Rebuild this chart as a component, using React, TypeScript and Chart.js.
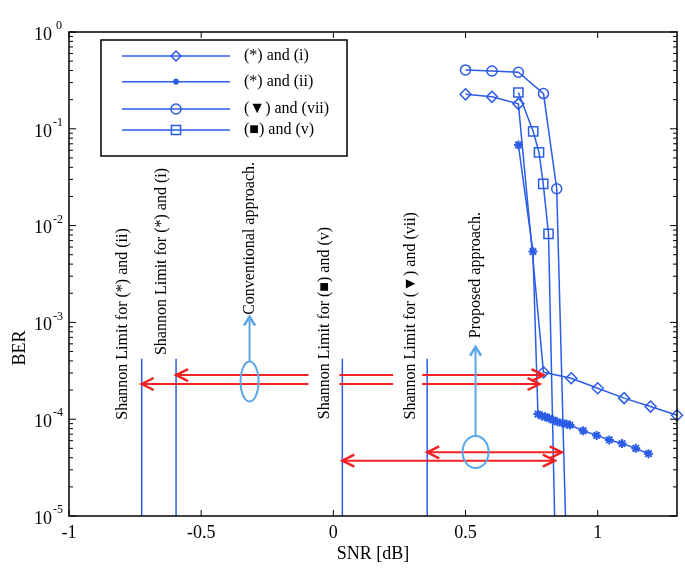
import React, { useEffect, useRef } from 'react';
import { Chart, registerables } from 'chart.js';

Chart.register(...registerables);

// ---------------- data ----------------
const xTicks = [-1, -0.5, 0, 0.5, 1];
const xTickLabels = ['-1', '-0.5', '0', '0.5', '1'];
const yTickExponents = [0, -1, -2, -3, -4, -5];

const seriesNames = ['(*) and (i)', '(*) and (ii)', '(\u25BC) and (vii)', '(\u25A0) and (v)'];

const snrI = [0.5, 0.6, 0.7, 0.795, 0.9, 1.0, 1.1, 1.2, 1.3];
const berI = [0.227, 0.214, 0.181, 3.05e-4, 2.65e-4, 2.09e-4, 1.65e-4, 1.35e-4, 1.1e-4];

const snrII = [0.7, 0.755, 0.774, 0.789, 0.801, 0.816, 0.832, 0.847, 0.866, 0.882, 0.895, 0.945, 0.996, 1.044, 1.092, 1.144, 1.192];
const berII = [0.068, 5.4e-3, 1.13e-4, 1.08e-4, 1.06e-4, 1.02e-4, 9.8e-5, 9.4e-5, 9.1e-5, 8.9e-5, 8.7e-5, 7.6e-5, 6.8e-5, 6.1e-5, 5.6e-5, 5.0e-5, 4.4e-5];

const snrVII = [0.5, 0.6, 0.7, 0.795, 0.845, 0.878];
const berVII = [0.406, 0.396, 0.384, 0.231, 0.024, 1e-5];

const snrV = [0.7, 0.756, 0.778, 0.794, 0.814, 0.837];
const berV = [0.237, 0.094, 0.057, 0.027, 0.0082, 1e-5];

const shannonSnr = [-0.725, -0.595, 0.034, 0.355];
const shannonTopBer = 4.2e-4;
const shannonLabels = [
  'Shannon Limit for (*) and (ii)',
  'Shannon Limit for (*) and (i)',
  'Shannon Limit for (\u25A0) and (v)',
  'Shannon Limit for (\u25BC) and (vii)',
];
const shannonLabelSnr = [-0.796, -0.649, -0.034, 0.294];
const shannonLabelTopBer = [9.4e-3, 0.0394, 9.7e-3, 0.0138];

const approachLabels = ['Conventional approach.', 'Proposed approach.'];
const approachSnr = [-0.317, 0.538];
const approachLabelTopBer = [0.0454, 0.0138];
const approachEllipseBer = [2.45e-4, 4.58e-5];
const approachArrowTipBer = [1.15e-3, 5.6e-4];

const arrowBer = [2.86e-4, 2.31e-4, 4.55e-5, 3.73e-5];
const arrowFromSnr = [-0.595, -0.725, 0.355, 0.034];
const arrowToSnr = [0.795, 0.78, 0.864, 0.838];
const arrowGapSnr = [[-0.094, 0.023], [0.226, 0.336]];
const arrowRowsWithGaps = [0, 1];

// ---------------- styles ----------------
const BLUE = '#2B5CE6';
const RED = '#F22222';
const LIGHT = '#5AA6E6';
const SERIF = '"Liberation Serif", "Times New Roman", serif';
const ELLIPSE_R = [[9, 20], [13, 16]];

const mk = (xs: number[], ys: number[]) => xs.map((x, i) => ({ x, y: ys[i] }));

function chevron(ctx: CanvasRenderingContext2D, tx: number, ty: number, dir: number, len: number, half: number) {
  const dx = Math.cos(dir), dy = Math.sin(dir);
  const bx = tx - dx * len, by = ty - dy * len;
  const nx = -dy, ny = dx;
  ctx.beginPath();
  ctx.moveTo(bx + nx * half, by + ny * half);
  ctx.lineTo(tx, ty);
  ctx.lineTo(bx - nx * half, by - ny * half);
  ctx.stroke();
}

function vText(ctx: CanvasRenderingContext2D, text: string, cx: number, topY: number, font: string, align: CanvasTextAlign = 'right') {
  ctx.save();
  ctx.translate(cx, topY);
  ctx.rotate(-Math.PI / 2);
  ctx.font = font;
  ctx.fillStyle = '#000';
  ctx.textAlign = align;
  ctx.textBaseline = 'middle';
  ctx.fillText(text, 0, 0);
  ctx.restore();
}

function marker(ctx: CanvasRenderingContext2D, style: string, x: number, y: number, r: number) {
  ctx.beginPath();
  if (style === 'rectRot') {
    ctx.moveTo(x - r, y); ctx.lineTo(x, y - r); ctx.lineTo(x + r, y); ctx.lineTo(x, y + r); ctx.closePath();
  } else if (style === 'circle') {
    ctx.arc(x, y, r, 0, Math.PI * 2);
  } else if (style === 'rect') {
    const s = r * Math.SQRT1_2;
    ctx.rect(x - s, y - s, 2 * s, 2 * s);
  } else if (style === 'star') {
    for (let k = 0; k < 4; k++) {
      const a = (k * Math.PI) / 4;
      ctx.moveTo(x - Math.cos(a) * r, y - Math.sin(a) * r);
      ctx.lineTo(x + Math.cos(a) * r, y + Math.sin(a) * r);
    }
  }
  ctx.stroke();
}

const overlayPlugin = {
  id: 'overlay',
  afterDatasetsDraw(chart: any) {
    const { ctx, scales } = chart;
    const px = (v: number) => scales.x.getPixelForValue(v);
    const py = (v: number) => scales.y.getPixelForValue(v);
    ctx.save();

    // red double arrows
    ctx.strokeStyle = RED;
    ctx.lineCap = 'butt';
    arrowBer.forEach((b, i) => {
      const yy = py(b);
      let segs: number[][] = [[arrowFromSnr[i], arrowToSnr[i]]];
      if (arrowRowsWithGaps.includes(i)) {
        segs = [];
        let start = arrowFromSnr[i];
        arrowGapSnr.forEach(([g0, g1]) => { segs.push([start, g0]); start = g1; });
        segs.push([start, arrowToSnr[i]]);
      }
      ctx.lineWidth = 2;
      segs.forEach(([a0, a1]) => {
        ctx.beginPath();
        ctx.moveTo(px(a0), yy);
        ctx.lineTo(px(a1), yy);
        ctx.stroke();
      });
      ctx.lineWidth = 2.5;
      chevron(ctx, px(arrowFromSnr[i]), yy, Math.PI, 12, 6);
      chevron(ctx, px(arrowToSnr[i]), yy, 0, 12, 6);
    });

    // light-blue ellipses with arrows
    ctx.strokeStyle = LIGHT;
    ctx.lineWidth = 2;
    approachSnr.forEach((s, i) => {
      const cx = px(s), cy = py(approachEllipseBer[i]);
      const [rx, ry] = ELLIPSE_R[i];
      ctx.beginPath();
      ctx.ellipse(cx, cy, rx, ry, 0, 0, Math.PI * 2);
      ctx.stroke();
      const tip = py(approachArrowTipBer[i]);
      ctx.beginPath();
      ctx.moveTo(cx, cy - ry);
      ctx.lineTo(cx, tip);
      ctx.stroke();
      ctx.lineWidth = 2.5;
      chevron(ctx, cx, tip, -Math.PI / 2, 9, 5.5);
      ctx.lineWidth = 2;
    });

    // rotated labels
    const f16 = `16px ${SERIF}`;
    shannonLabels.forEach((t, i) => vText(ctx, t, px(shannonLabelSnr[i]), py(shannonLabelTopBer[i]), f16));
    approachLabels.forEach((t, i) => vText(ctx, t, px(approachSnr[i]), py(approachLabelTopBer[i]), f16));
    ctx.restore();
  },
  afterDraw(chart: any) {
    const { ctx, chartArea: a, scales } = chart;
    const px = (v: number) => scales.x.getPixelForValue(v);
    const py = (v: number) => scales.y.getPixelForValue(v);
    ctx.save();
    ctx.strokeStyle = '#000';
    ctx.lineWidth = 1.5;
    ctx.strokeRect(a.left, a.top, a.right - a.left, a.bottom - a.top);

    // x ticks (bottom & top, inward)
    ctx.lineWidth = 1;
    xTicks.forEach((v) => {
      const xx = px(v);
      ctx.beginPath();
      ctx.moveTo(xx, a.bottom); ctx.lineTo(xx, a.bottom - 6);
      ctx.moveTo(xx, a.top); ctx.lineTo(xx, a.top + 6);
      ctx.stroke();
    });
    // y ticks (log major + minor)
    yTickExponents.forEach((e) => {
      const yy = py(Math.pow(10, e));
      ctx.beginPath();
      ctx.moveTo(a.left, yy); ctx.lineTo(a.left + 7, yy);
      ctx.moveTo(a.right, yy); ctx.lineTo(a.right - 7, yy);
      ctx.stroke();
      if (e > -5) {
        for (let m = 2; m <= 9; m++) {
          const ym = py(m * Math.pow(10, e - 1));
          ctx.beginPath();
          ctx.moveTo(a.left, ym); ctx.lineTo(a.left + 4, ym);
          ctx.moveTo(a.right, ym); ctx.lineTo(a.right - 4, ym);
          ctx.stroke();
        }
      }
    });
    // y tick labels 10^e
    ctx.fillStyle = '#000';
    ctx.textBaseline = 'middle';
    yTickExponents.forEach((e) => {
      const yy = py(Math.pow(10, e));
      ctx.font = `18px ${SERIF}`;
      ctx.textAlign = 'right';
      ctx.fillText('10', a.left - 17, yy + 3);
      ctx.font = `12px ${SERIF}`;
      ctx.textAlign = 'left';
      ctx.fillText(String(e), a.left - (e === 0 ? 13 : 16), yy - 6);
    });
    // y title
    vText(ctx, 'BER', 20, 348, `18px ${SERIF}`, 'center');

    // legend
    const lx = a.left + 32, ly = a.top + 8, lw = 246, lh = 116;
    ctx.fillStyle = '#fff';
    ctx.fillRect(lx, ly, lw, lh);
    ctx.strokeStyle = '#000';
    ctx.lineWidth = 1.5;
    ctx.strokeRect(lx, ly, lw, lh);
    const rows = [16, 41.7, 69, 90];
    const styles = ['rectRot', 'star', 'circle', 'rect'];
    const radii = [5, 3, 5, 6.5];
    seriesNames.forEach((name, i) => {
      const yy = ly + rows[i];
      ctx.strokeStyle = BLUE;
      ctx.lineWidth = 1.5;
      ctx.beginPath();
      ctx.moveTo(lx + 21, yy); ctx.lineTo(lx + 129, yy);
      ctx.stroke();
      ctx.lineWidth = i === 1 ? 2 : 1.5;
      marker(ctx, styles[i], lx + 75, yy, radii[i]);
      ctx.fillStyle = '#000';
      ctx.font = `16px ${SERIF}`;
      ctx.textAlign = 'left';
      ctx.textBaseline = 'middle';
      ctx.fillText(name, lx + 143, yy);
    });
    ctx.restore();
  },
};

export default function App() {
  const ref = useRef<HTMLCanvasElement>(null);
  useEffect(() => {
    if (!ref.current) return;
    const common = { borderColor: BLUE, borderWidth: 1.5, pointBorderColor: BLUE, pointBackgroundColor: 'rgba(0,0,0,0)', pointBorderWidth: 1.5, clip: 8 };
    const chart = new Chart(ref.current, {
      type: 'line',
      data: {
        datasets: [
          { ...common, label: seriesNames[0], data: mk(snrI, berI), pointStyle: 'rectRot', pointRadius: 5.5 },
          { ...common, label: seriesNames[1], data: mk(snrII, berII), pointStyle: 'star', pointRadius: 4.5, pointBorderWidth: 2 },
          { ...common, label: seriesNames[2], data: mk(snrVII, berVII), pointStyle: 'circle', pointRadius: snrVII.map((_, i) => (i === snrVII.length - 1 ? 0 : 5)) },
          { ...common, label: seriesNames[3], data: mk(snrV, berV), pointStyle: 'rect', pointRadius: snrV.map((_, i) => (i === snrV.length - 1 ? 0 : 6.5)) },
          ...shannonSnr.map((s, i) => ({
            label: shannonLabels[i],
            data: [{ x: s, y: shannonTopBer }, { x: s, y: 1e-5 }],
            borderColor: BLUE,
            borderWidth: 1.5,
            pointRadius: 0,
          })),
        ] as any,
      },
      options: {
        animation: false,
        responsive: false,
        events: [],
        layout: { padding: { top: 32, right: 7, left: 0, bottom: 0 } },
        plugins: { legend: { display: false }, tooltip: { enabled: false } },
        scales: {
          x: {
            type: 'linear',
            min: -1,
            max: 1.3,
            afterBuildTicks: (s: any) => { s.ticks = xTicks.map((v) => ({ value: v })); },
            afterFit: (s: any) => { s.height = 53; },
            ticks: {
              font: { family: SERIF, size: 18 },
              color: '#000',
              padding: 6,
              maxRotation: 0,
              autoSkip: false,
              callback: (v: any) => xTickLabels[xTicks.indexOf(Number(v))] ?? '',
            },
            grid: { display: false, drawTicks: false },
            border: { display: false },
            title: { display: true, text: 'SNR [dB]', color: '#000', font: { family: SERIF, size: 18 }, padding: { top: 0, bottom: 4 } },
          },
          y: {
            type: 'logarithmic',
            min: 1e-5,
            max: 1,
            afterFit: (s: any) => { s.width = 69; },
            ticks: { display: false },
            grid: { display: false, drawTicks: false },
            border: { display: false },
          },
        },
      } as any,
      plugins: [overlayPlugin],
    });
    return () => chart.destroy();
  }, []);
  return (
    <div style={{ position: 'absolute', left: 0, top: 0, width: 685, height: 569, background: '#fff' }}>
      <canvas ref={ref} width={685} height={569} style={{ display: 'block' }} />
    </div>
  );
}
